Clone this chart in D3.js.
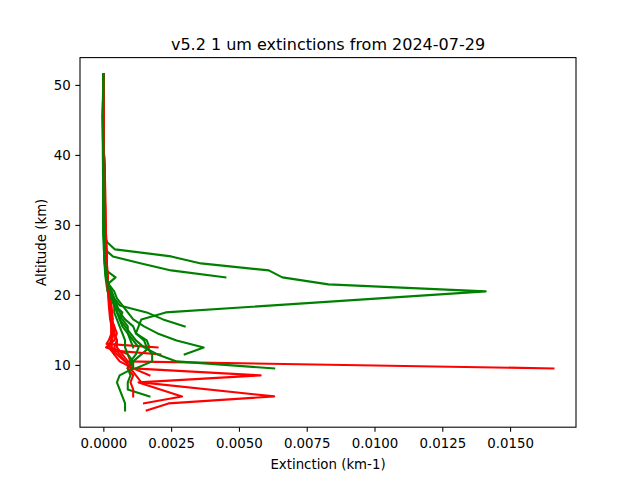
<!DOCTYPE html>
<html>
<head>
<meta charset="utf-8">
<script src="https://cdn.jsdelivr.net/npm/d3@7"></script>
<style>
  html, body { margin: 0; padding: 0; background: #fff; }
  svg { display: block; font-family: "DejaVu Sans", sans-serif; }
</style>
</head>
<body>
<svg id="chart" width="640" height="480"></svg>
<script>
// ---- data: each profile is [altitude (km), extinction (km-1)] ----
const titleText = "v5.2 1 um extinctions from 2024-07-29";
const xLabelText = "Extinction (km-1)";
const yLabelText = "Altitude (km)";
const xTickValues = [0, 0.0025, 0.005, 0.0075, 0.01, 0.0125, 0.015];
const yTickValues = [10, 20, 30, 40, 50];

const r1 = [[51.5,0.00001],[45.5,0.00001],[40.5,0.00002],[36.5,0.00005],[30.5,0.00007],[28.5,0.00009],[26.5,0.00011],[24.5,0.00012],[22.5,0.00015],[20.5,0.0002],[18.5,0.00025],[17.5,0.0003],[16.5,0.0003],[15.5,0.00035],[14.5,0.0004],[13.5,0.0005],[12.5,0.0004],[11.5,0.0006],[10.5,0.0008],[9.5,0.0166]];
const g1 = [[51.5,0],[45.5,-0.00002],[40.5,-0.00001],[35.5,0],[30.5,0.00001],[28.5,0.00002],[27.5,0.00015],[26.5,0.00043],[25.5,0.0025],[24.5,0.0036],[23.5,0.0061],[22.5,0.0066],[21.5,0.0083],[20.5,0.0141],[17.5,0.0023],[16.5,0.0014],[15.5,0.0013],[14.5,0.0012],[13.5,0.0016],[12.5,0.0017],[11.5,0.0014],[10.5,0.0011],[9.5,0.0009]];
const r2 = [[51.5,0],[45.5,0.00001],[40.5,0.00002],[36.5,0.00006],[30.5,0.00008],[28.5,0.0001],[26.5,0.00012],[24.5,0.00013],[22.5,0.00016],[20.5,0.0002],[18.5,0.0003],[16.5,0.00035],[15.5,0.0003],[14.5,0.0003],[13.5,0.0003],[12.5,0.00015],[12.0,0.0006],[11.5,0.0009],[10.5,0.0010],[9.5,0.0011],[8.5,0.0058],[7.5,0.0013],[5.5,0.0029],[4.5,0.0015]];
const g2 = [[51.5,0],[45.5,-0.00003],[40.5,-0.00002],[35.5,-0.00001],[30.5,0],[28.5,0.00001],[27.5,0.00002],[26.5,0.00005],[25.5,0.00035],[24.5,0.0014],[23.5,0.0025],[22.5,0.0045]];
const r3 = [[51.5,0.00001],[45.5,0.00001],[40.5,0.00002],[36.5,0.00004],[30.5,0.00006],[28.5,0.00008],[26.5,0.0001],[24.5,0.00012],[22.5,0.00014],[20.5,0.00018],[18.5,0.00022],[16.5,0.0003],[15.5,0.0004],[14.5,0.0004],[13.5,0.0003],[12.5,0.0003],[11.5,0.0005],[10.5,0.0008],[9.5,0.0010],[8.5,0.0012],[7.5,0.0014],[5.5,0.0063],[4.5,0.0024],[3.5,0.0016]];
const g3 = [[51.5,0],[45.5,-0.00001],[40.5,0],[35.5,0.00001],[30.5,0.00002],[28.5,0.00003],[26.5,0.00005],[24.5,0.00008],[23.5,0.0001],[22.5,0.00045],[21.5,0.00015],[20.5,0.0003],[19.5,0.0004],[18.5,0.0006],[17.5,0.0016],[16.5,0.0022],[15.5,0.0030]];
const r4 = [[51.5,0],[45.5,0.00001],[40.5,0.00001],[36.5,0.00005],[30.5,0.00007],[28.5,0.00009],[26.5,0.0001],[24.5,0.00012],[22.5,0.00015],[20.5,0.00019],[18.5,0.00024],[16.5,0.0003],[15.5,0.0003],[14.5,0.0003],[13.5,0.0002],[13.0,0.00012],[12.5,0.0020]];
const g4 = [[51.5,0],[45.5,-0.00002],[40.5,-0.00001],[35.5,0],[30.5,0.00001],[28.5,0.00002],[26.5,0.00003],[24.5,0.00008],[22.5,0.00012],[21.5,0.0002],[20.5,0.0004],[19.5,0.0005],[18.5,0.0007],[17.5,0.0009],[16.5,0.0011],[15.5,0.0015],[14.5,0.0020],[13.5,0.0027],[12.5,0.0037],[11.5,0.0030]];
const r5 = [[51.5,0.00001],[45.5,0.00001],[40.5,0.00002],[36.5,0.00006],[30.5,0.00008],[28.5,0.0001],[26.5,0.00011],[24.5,0.00013],[22.5,0.00016],[20.5,0.00021],[18.5,0.00026],[16.5,0.0003],[15.5,0.0004],[14.5,0.0005],[13.5,0.0004],[12.5,0.0001],[12.0,0.0005],[11.5,0.0021]];
const g5 = [[51.5,0],[45.5,-0.00001],[40.5,-0.00001],[35.5,0],[30.5,0],[28.5,0.00001],[26.5,0.00002],[24.5,0.00006],[22.5,0.0001],[20.5,0.0002],[19.5,0.0003],[18.5,0.0004],[17.5,0.0007],[16.5,0.0006],[15.5,0.0008],[14.5,0.0010],[13.5,0.0012],[12.5,0.0015],[11.5,0.0020],[10.5,0.0027],[9.5,0.0063]];
const r6 = [[51.5,0],[45.5,0.00001],[40.5,0.00002],[36.5,0.00005],[30.5,0.00007],[28.5,0.00008],[26.5,0.0001],[24.5,0.00011],[22.5,0.00014],[20.5,0.00018],[18.5,0.00023],[16.5,0.00028],[15.5,0.0003],[14.5,0.00035],[13.5,0.0003],[12.5,0.0003],[11.5,0.0004],[10.5,0.0006],[9.5,0.0011],[8.5,0.0017]];
const g6 = [[51.5,0],[45.5,-0.00002],[40.5,0],[35.5,0],[30.5,0.00001],[28.5,0.00002],[26.5,0.00004],[24.5,0.00006],[22.5,0.0001],[21.5,0.00015],[20.5,0.0002],[19.5,0.0003],[18.5,0.0005],[17.5,0.0005],[16.5,0.0007],[15.5,0.0009],[14.5,0.0009],[13.5,0.0011],[12.5,0.0013],[11.5,0.0012],[10.5,0.0010],[9.5,0.0009],[8.5,0.0010],[7.5,0.0009],[6.5,0.0009],[5.5,0.0017]];
const r7 = [[51.5,0.00001],[45.5,0.00001],[40.5,0.00002],[36.5,0.00005],[30.5,0.00006],[28.5,0.00008],[26.5,0.0001],[24.5,0.00012],[22.5,0.00015],[20.5,0.0002],[18.5,0.00025],[16.5,0.0003],[15.5,0.00035],[14.5,0.0004],[13.5,0.0005],[12.5,0.0005],[11.5,0.0007],[10.5,0.0009],[9.5,0.0009],[8.5,0.0011],[7.5,0.0010],[6.5,0.0011],[5.5,0.0011]];
const g7 = [[51.5,0],[45.5,-0.00001],[40.5,-0.00001],[35.5,0],[30.5,0],[28.5,0.00001],[26.5,0.00002],[24.5,0.00004],[22.5,0.00008],[20.5,0.00015],[19.5,0.0003],[18.5,0.0004],[17.5,0.0004],[16.5,0.0005],[15.5,0.0006],[14.5,0.0007],[13.5,0.0008],[12.5,0.0008],[11.5,0.0009],[10.5,0.0011],[9.5,0.0011],[8.5,0.0006],[7.5,0.0005],[6.5,0.0006],[5.5,0.0007],[4.5,0.0008],[3.5,0.0008]];
const r8 = [[51.5,0],[45.5,0.00001],[40.5,0.00001],[36.5,0.00004],[30.5,0.00006],[28.5,0.00008],[26.5,0.0001],[24.5,0.00011],[22.5,0.00013],[20.5,0.00017],[18.5,0.0002],[16.5,0.00025],[15.5,0.0003],[14.5,0.0003],[13.5,0.0003],[12.5,0.0002],[11.5,0.0004]];
const g8 = [[51.5,0],[45.5,-0.00002],[40.5,-0.00001],[35.5,0],[30.5,0.00001],[28.5,0.00002],[26.5,0.00004],[24.5,0.00007],[22.5,0.00012],[21.5,0.0002],[20.5,0.0003],[19.5,0.0004],[18.5,0.0005],[17.5,0.0006],[16.5,0.0008],[15.5,0.0011],[14.5,0.0012],[13.5,0.0015],[12.5,0.0016],[11.5,0.0018],[10.5,0.0018],[9.5,0.0012]];
const g9 = [[51.5,0],[45.5,-0.00001],[40.5,0],[35.5,0],[30.5,0.00001],[28.5,0.00002],[26.5,0.00003],[24.5,0.00005],[22.5,0.0001],[20.5,0.00025],[19.5,0.00035],[18.5,0.0004],[17.5,0.0005],[16.5,0.0006],[15.5,0.0007],[14.5,0.0009],[13.5,0.0010],[12.5,0.0011]];

// drawing order and colours
const profiles = [
  {data: r1, color: "#ff0000"}, {data: g1, color: "#008000"},
  {data: r2, color: "#ff0000"}, {data: g2, color: "#008000"},
  {data: r3, color: "#ff0000"}, {data: g3, color: "#008000"},
  {data: r4, color: "#ff0000"}, {data: g4, color: "#008000"},
  {data: r5, color: "#ff0000"}, {data: g5, color: "#008000"},
  {data: r6, color: "#ff0000"}, {data: g6, color: "#008000"},
  {data: r7, color: "#ff0000"}, {data: g7, color: "#008000"},
  {data: r8, color: "#ff0000"}, {data: g8, color: "#008000"},
  {data: g9, color: "#008000"}
];

// ---- layout (matplotlib defaults for 640x480) ----
const W = 640, H = 480;
const L = 80, R = 576, T = 57.6, B = 427.2;
const svg = d3.select("#chart");

const all = profiles.flatMap(p => p.data);
const [xmin, xmax] = d3.extent(all, d => d[1]);
const [ymin, ymax] = d3.extent(all, d => d[0]);
const xpad = (xmax - xmin) * 0.05, ypad = (ymax - ymin) * 0.05;

const x = d3.scaleLinear().domain([xmin - xpad, xmax + xpad]).range([L, R]);
const y = d3.scaleLinear().domain([ymin - ypad, ymax + ypad]).range([B, T]);

// clip
svg.append("defs").append("clipPath").attr("id", "clip")
  .append("rect").attr("x", L).attr("y", T).attr("width", R - L).attr("height", B - T);

const line = d3.line().x(d => x(d[1])).y(d => y(d[0]));
const g = svg.append("g").attr("clip-path", "url(#clip)");
g.selectAll("path").data(profiles).join("path")
  .attr("d", p => line(p.data))
  .attr("fill", "none")
  .attr("stroke", p => p.color)
  .attr("stroke-width", 2.08)
  .attr("stroke-linejoin", "round")
  .attr("stroke-linecap", "square");

// axes
const tickLen = 4.67, tickPad = 4.67;
const xAxis = d3.axisBottom(x).tickValues(xTickValues).tickFormat(d3.format(".4f"))
  .tickSizeInner(tickLen).tickSizeOuter(0).tickPadding(tickPad);
const yAxis = d3.axisLeft(y).tickValues(yTickValues).tickFormat(d3.format("d"))
  .tickSizeInner(tickLen).tickSizeOuter(0).tickPadding(tickPad);

const gx = svg.append("g").attr("transform", `translate(0,${B})`).call(xAxis);
const gy = svg.append("g").attr("transform", `translate(${L},0)`).call(yAxis);
[gx, gy].forEach(a => {
  a.select(".domain").remove();
  a.selectAll(".tick line").attr("stroke", "#000").attr("stroke-width", 1.07);
  a.selectAll(".tick text").attr("fill", "#000").attr("font-size", "13.33px")
    .attr("font-family", "DejaVu Sans");
});
gx.selectAll(".tick text").attr("dy", null).attr("y", tickLen + tickPad + 11.3);
gy.selectAll(".tick text").attr("dy", "0.36em");

// spines
svg.append("rect").attr("x", L).attr("y", T).attr("width", R - L).attr("height", B - T)
  .attr("fill", "none").attr("stroke", "#000").attr("stroke-width", 1.07);

// labels
svg.append("text").attr("x", (L + R) / 2).attr("y", 49.6)
  .attr("text-anchor", "middle").attr("font-size", "16px").attr("fill", "#000")
  .text(titleText);
svg.append("text").attr("x", (L + R) / 2).attr("y", 468.5)
  .attr("text-anchor", "middle").attr("font-size", "13.33px").attr("fill", "#000")
  .text(xLabelText);
svg.append("text").attr("transform", `translate(45.5,${(T + B) / 2}) rotate(-90)`)
  .attr("text-anchor", "middle").attr("font-size", "13.33px").attr("fill", "#000")
  .text(yLabelText);
</script>
</body>
</html>
